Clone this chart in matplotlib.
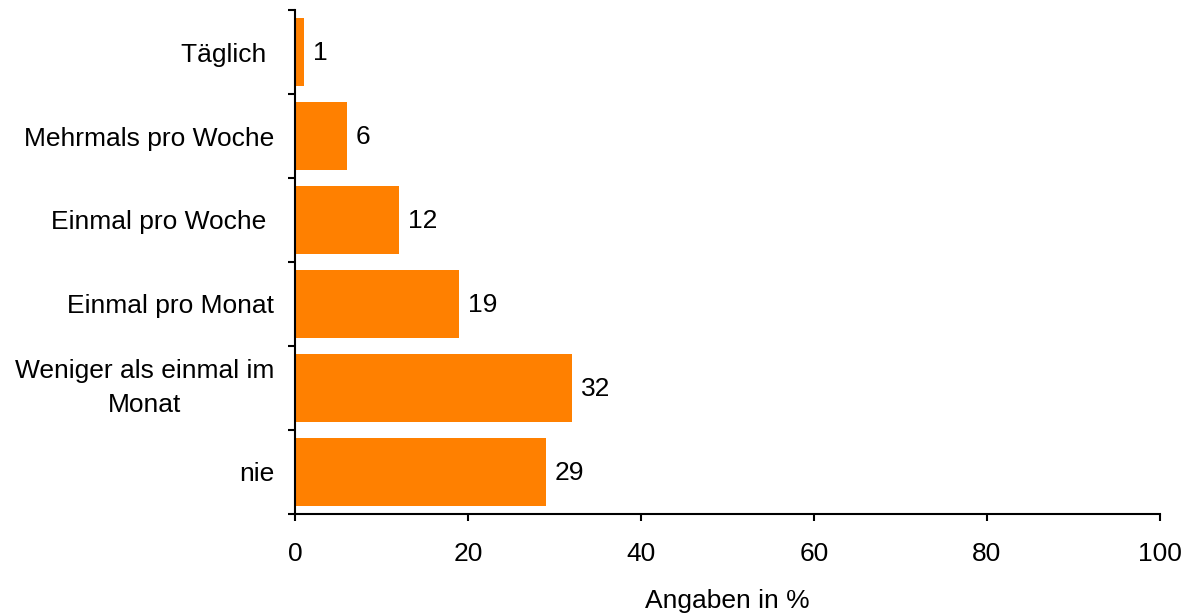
import numpy as np
import matplotlib.pyplot as plt

plt.rcParams['font.family'] = ['Liberation Sans', 'DejaVu Sans']

categories = ["Täglich ", "Mehrmals pro Woche", "Einmal pro Woche ", "Einmal pro Monat",
              "Weniger als einmal im\nMonat", "nie"]
values = [1, 6, 12, 19, 32, 29]
x_ticks = [0, 20, 40, 60, 80, 100]

fig = plt.figure(figsize=(11.85, 6.14), dpi=100)
ax = fig.add_axes([0.2489, 0.1629, 0.9789 - 0.2489, 0.9837 - 0.1629])

y = np.arange(len(categories))
ax.barh(y, values, height=0.8, color='#FF8000')
for yi, v in zip(y, values):
    ax.annotate(str(v), (v, yi), xytext=(6.5, -1), textcoords='offset points',
                va='center', ha='left', fontsize=19)

ax.set_ylim(len(categories) - 0.5, -0.5)
ax.set_xlim(0, 100)
ax.set_xticks(x_ticks)
ax.set_yticks(y)
ax.set_yticklabels(categories, fontsize=19, multialignment='center', linespacing=1.55)
# two-line label: centre the whole block on the category
for lbl in ax.get_yticklabels():
    if '\n' in lbl.get_text():
        lbl.set_va('center')
ax.set_yticks(np.arange(len(categories) + 1) - 0.5, minor=True)
ax.tick_params(axis='y', which='major', length=0, pad=15)
ax.tick_params(axis='y', which='minor', length=5, width=1.5)
ax.tick_params(axis='x', labelsize=19, length=5, width=1.5, pad=15)

for s in ['top', 'right']:
    ax.spines[s].set_visible(False)
for s in ['left', 'bottom']:
    ax.spines[s].set_linewidth(1.5)

ax.set_xlabel('Angaben in %', fontsize=19, labelpad=17)

fig.savefig('out.png', dpi=100)
